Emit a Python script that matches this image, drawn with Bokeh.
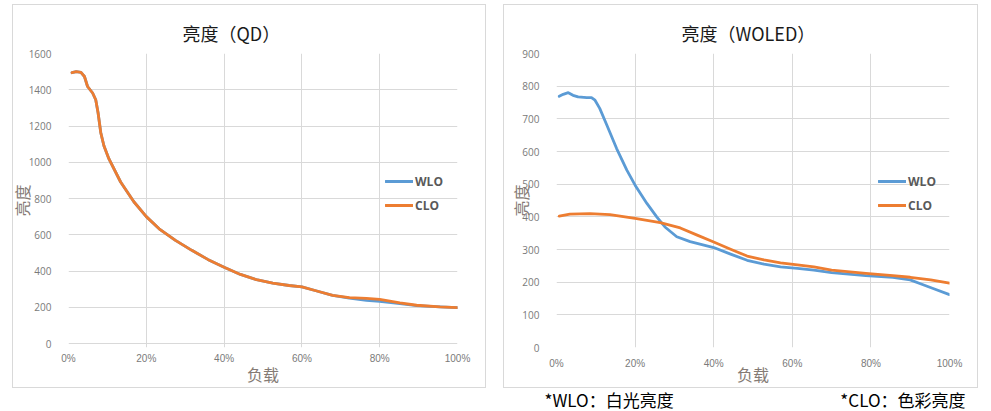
from bokeh.plotting import figure
from bokeh.models import Range1d, FixedTicker, Legend, LegendItem
from bokeh.layouts import row, column
from bokeh.core.properties import value
from bokeh.embed import file_html
from bokeh.resources import INLINE

# ---------------- data ----------------
load_ticks = [0, 20, 40, 60, 80, 100]
load_tick_labels = ["0%", "20%", "40%", "60%", "80%", "100%"]

qd_load = [0.9, 2, 3.2, 4.1, 4.9, 6.2, 7.0, 7.6, 8.3, 9.1, 10.4, 13.4, 16.8, 20,
           23.3, 27.5, 31.7, 35.8, 40, 44.2, 48.3, 52.5, 56.7, 60, 63.6, 67.9,
           72.2, 76.6, 80, 85.2, 89.5, 95.5, 100]
qd_wlo = [1494, 1500, 1496, 1473, 1418, 1382, 1345, 1273, 1163, 1091, 1018, 891,
          782, 700, 633, 569, 514, 464, 421, 381, 352, 333, 320, 312, 291, 266,
          250, 238, 232, 220, 209, 202, 198]
qd_clo = [1494, 1500, 1496, 1473, 1418, 1382, 1345, 1273, 1163, 1091, 1018, 891,
          782, 700, 633, 569, 514, 464, 421, 381, 352, 333, 320, 312, 291, 266,
          253, 249, 244, 224, 211, 202, 198]
qd_yticks = [0, 200, 400, 600, 800, 1000, 1200, 1400, 1600]

woled_wlo_load = [0.7, 1.7, 3.0, 4.2, 5.5, 7.7, 8.9, 9.8, 11, 12.8, 15.3, 17.9,
                  20, 23, 25.5, 27.6, 30.6, 34, 40, 44.3, 48.5, 52.8, 57, 61.3,
                  65.5, 70, 78.7, 85.6, 90, 92.6, 96, 100]
woled_wlo = [769, 775, 780, 772, 767, 765, 765, 757, 732, 681, 609, 543, 497, 441,
             400, 369, 339, 324, 306, 286, 267, 255, 247, 242, 237, 229, 220, 215,
             207, 195, 180, 162]
woled_clo_load = [0.7, 3.4, 8.5, 13.6, 20, 26.4, 31.5, 35.8, 40, 44.3, 48.5, 52.8,
                  57, 61.3, 65.5, 70, 78.7, 85.6, 90, 95.2, 100]
woled_clo = [402, 408, 410, 407, 395, 382, 366, 344, 323, 301, 280, 268, 259, 253,
             247, 237, 227, 220, 215, 207, 197]
woled_yticks = [0, 100, 200, 300, 400, 500, 600, 700, 800, 900]

series_names = ["WLO", "CLO"]
series_colors = ["#5b9bd5", "#ed7d31"]
titles = ["亮度（QD）", "亮度（WOLED）"]
x_label = "负载"
y_label = "亮度"
captions = ["*WLO：白光亮度", "*CLO：色彩亮度"]

CJK = "Noto Sans CJK SC"
CJK_COMPACT = "'Liberation Sans', 'Noto Sans CJK SC'"
GRID = "#d9d9d9"
TICK_COLOR = "#7a7a7a"
LABEL_COLOR = "#857b75"
H = 392
FRAME_TOP, FRAME_BOTTOM = 53, 347      # plot frames (row aligns them)
QD_ZERO_PX = 343                       # QD chart's zero line sits 4px higher
qd_y_start = -1600 * (FRAME_BOTTOM - QD_ZERO_PX) / (QD_ZERO_PX - FRAME_TOP)


def box_styles(x0, y0, w, h):
    """light grey chart border drawn as CSS background lines"""
    g = "linear-gradient(#d9d9d9, #d9d9d9)"
    sizes = [f"{w}px 1px", f"{w}px 1px", f"1px {h}px", f"1px {h}px"]
    pos = [f"{x0}px {y0}px", f"{x0}px {y0 + h - 1}px",
           f"{x0}px {y0}px", f"{x0 + w - 1}px {y0}px"]
    return {"background-image": ", ".join([g] * 4),
            "background-size": ", ".join(sizes),
            "background-position": ", ".join(pos),
            "background-repeat": "no-repeat",
            "background-color": "white"}


def make_fig(width, y_start, ymax, yticks, mb_lr, title, title_offset,
             y_lab_standoff, x_tick_standoff, x_lab_standoff):
    p = figure(width=width, height=H,
               x_range=Range1d(0, 100), y_range=Range1d(y_start, ymax),
               output_backend="svg", toolbar_location=None,
               min_border_left=mb_lr[0], min_border_right=mb_lr[1],
               min_border_top=FRAME_TOP, min_border_bottom=H - FRAME_BOTTOM)
    p.outline_line_color = None
    p.background_fill_color = "white"
    p.border_fill_color = None

    p.title.text = title
    p.title.text_font = CJK
    p.title.text_font_size = "18px"
    p.title.text_font_style = "normal"
    p.title.text_color = "#1a1a1a"
    p.title.align = "left"
    p.title.offset = title_offset
    p.title.standoff = 16

    p.xaxis.ticker = FixedTicker(ticks=load_ticks)
    p.xaxis.major_label_overrides = {t: l for t, l in zip(load_ticks, load_tick_labels)}
    p.yaxis.ticker = FixedTicker(ticks=yticks)

    for ax in (p.xaxis, p.yaxis):
        ax.major_tick_line_color = None
        ax.minor_tick_line_color = None
        ax.major_label_text_font_size = "10px"
        ax.major_label_text_color = TICK_COLOR
        ax.axis_label_text_font_size = "16px"
        ax.axis_label_text_font_style = "normal"
        ax.axis_label_text_color = LABEL_COLOR
    p.yaxis.major_label_text_font = "Open Sans"
    p.yaxis.axis_label_text_font = CJK
    p.xaxis.major_label_text_font = "Liberation Sans"
    p.xaxis.axis_label_text_font = CJK_COMPACT
    p.xaxis.major_tick_out = 0
    p.xaxis.major_tick_in = 0
    p.xaxis.axis_line_color = None      # the zero grid line draws the baseline
    p.yaxis.axis_line_color = None
    p.xaxis.axis_label = x_label
    p.yaxis.axis_label = y_label
    p.xaxis.major_label_standoff = x_tick_standoff
    p.yaxis.major_label_standoff = 11
    p.xaxis.axis_label_standoff = x_lab_standoff
    p.yaxis.axis_label_standoff = y_lab_standoff

    p.xgrid.grid_line_color = GRID
    p.ygrid.grid_line_color = GRID
    return p


def add_lines(p, xs_list, ys_list, legend_loc):
    renderers = []
    for xs, ys, c in zip(xs_list, ys_list, series_colors):
        r = p.line(xs, ys, line_color=c, line_width=2.8,
                   line_join="round", line_cap="round")
        renderers.append(r)
    legend = Legend(items=[LegendItem(label=n, renderers=[r])
                           for n, r in zip(series_names, renderers)],
                    location=legend_loc)
    legend.label_text_font = "Open Sans"
    legend.label_text_font_style = "bold"
    legend.label_text_font_size = "12px"
    legend.label_text_color = "#595959"
    legend.glyph_width = 28
    legend.glyph_height = 20
    legend.label_height = 20
    legend.label_standoff = 2
    legend.spacing = 4
    legend.padding = 0
    legend.margin = 0
    legend.border_line_color = None
    legend.background_fill_alpha = 0
    p.add_layout(legend)


# left chart: QD   (figure spans page x 0..494)
p1 = make_fig(494, qd_y_start, 1600, qd_yticks, (68, 37), titles[0], 114, -8, 5, 0)
p1.styles = box_styles(12, 4, 474, 384)
add_lines(p1, [qd_load, qd_load], [qd_wlo, qd_clo], (317, 132))

# right chart: WOLED  (figure spans page x 494..988)
p2 = make_fig(494, 0, 900, woled_yticks, (62, 39), titles[1], 125, -14, 10, -5)
p2.styles = box_styles(9, 4, 475, 384)
add_lines(p2, [woled_wlo_load, woled_clo_load], [woled_wlo, woled_clo], (322, 132))

# caption strip (transparent, slightly overlapping the empty bottom edge of the charts)
CAP_H = 25
pc = figure(width=988, height=CAP_H, x_range=Range1d(0, 988), y_range=Range1d(0, CAP_H),
            output_backend="svg", toolbar_location=None,
            x_axis_location=None, y_axis_location=None, min_border=0)
pc.outline_line_color = None
pc.grid.visible = False
pc.border_fill_color = None
pc.background_fill_color = None
pc.margin = (-6, 0, 0, 0)
pc.text(x=[544], y=[12.5], text=[captions[0]], text_align="left",
        text_baseline="middle", text_font=value(CJK), text_font_size="17px",
        text_color="#000000")
pc.text(x=[965], y=[12.5], text=[captions[1]], text_align="right",
        text_baseline="middle", text_font=value(CJK), text_font_size="17px",
        text_color="#000000")

layout = column(row(p1, p2), pc)
open("out.html", "w").write(file_html(layout, INLINE))
